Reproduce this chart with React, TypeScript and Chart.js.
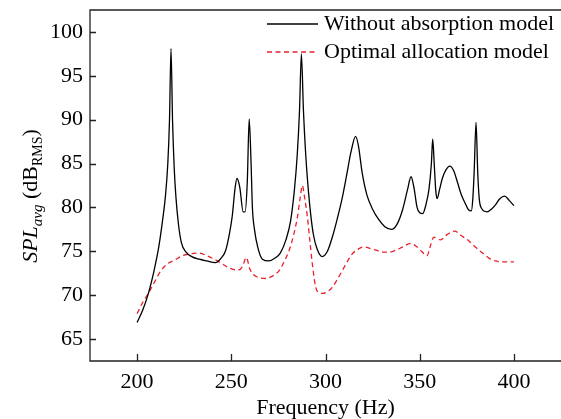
import React, { useEffect, useRef } from "react";
import { Chart, registerables } from "chart.js";

Chart.register(...registerables);

// ---- data ----
const freqWithout = [
  200, 203, 206, 209, 211.5, 213.5, 215, 216.3, 217.2, 218, 218.8, 219.7, 220.6, 222, 223.5, 226, 229, 233, 237,
  241.5, 244.5, 247, 249, 250.5, 252, 253, 254.5, 256.3, 257.3, 258.5, 259.5, 260.5, 261.2, 262.3, 264, 266.5,
  270, 273, 276, 279, 281.5, 283.5, 285, 286.2, 287.2, 288.3, 289.5, 290.5, 292, 293.5, 295.5, 298.3, 301,
  303.6, 306, 309, 311.5, 313.5, 316, 317.5, 319.5, 322, 325, 328.3, 331.5, 335, 338, 341, 343.5, 345.4, 347,
  348.6, 350, 351.6, 353.5, 355, 356.2, 356.9, 357.7, 358.5, 359.2, 360.5, 362, 364, 366, 368, 370, 372, 374.3,
  376, 377.4, 378.2, 378.9, 379.9, 380.8, 381.6, 382.8, 385.8, 388, 390.2, 392.5, 395.1, 397.5, 400,
];
const splWithout = [
  66.9, 68.3, 70.2, 72.8, 75.5, 78.5, 81.2, 85, 90, 98.1, 90, 84.5, 81.2, 78, 76, 74.9, 74.4, 74.1, 73.9,
  73.7, 74.2, 75.1, 77, 79, 82.2, 83.3, 82.3, 79.5, 79.5, 83, 90.1, 85, 80, 77.5, 75.5, 74.1,
  73.9, 74.2, 74.8, 76.3, 78.5, 82, 86, 91, 97.5, 91, 86, 83, 79.5, 77, 75.3, 74.4, 75,
  76.6, 78.5, 81.2, 84, 86.3, 88.1, 87, 83.9, 81.4, 79.8, 78.6, 77.8, 77.5, 78.1, 79.8, 82, 83.5, 82.2,
  80, 79.4, 79.3, 80.5, 82.2, 85, 87.8, 85, 82, 81, 82, 83.3, 84.3, 84.7, 84.2, 82.9, 81.5, 80.4,
  79.7, 79.6, 81, 84, 89.7, 84, 81, 79.9, 79.5, 79.8, 80.3, 81, 81.3, 80.8, 80.2,
];
const freqOptimal = [
  200, 203, 206.5, 210, 213, 216.2, 220, 224, 228, 233, 237, 241.8, 245, 248.9, 252, 254.2, 256, 258, 259.8,
  261.5, 263.5, 268.3, 272, 275.4, 278, 280.7, 283, 285.1, 286.5, 287.7, 289, 290.4, 291.7, 293, 294.8, 296.5,
  298.3, 301, 303.6, 306, 308.9, 311.5, 314.2, 317, 320.4, 324, 327.4, 330, 333.6, 337, 341, 345.1, 348.6, 351,
  353.9, 355.5, 357.5, 361, 364.5, 368.6, 372, 376, 380, 384, 387, 390.2, 395, 400,
];
const splOptimal = [
  67.9, 69.2, 70.4, 71.8, 72.9, 73.6, 74.0, 74.5, 74.7, 74.8, 74.5, 74.0, 73.6, 73.1, 72.9, 72.9, 73.3, 74.3, 73.0,
  72.4, 72.1, 71.9, 72.2, 72.8, 73.8, 75.1, 76.8, 78.9, 81, 82.5, 81, 78.9, 76.2, 73.6, 70.9, 70.3,
  70.2, 70.4, 70.9, 71.7, 72.8, 73.8, 74.7, 75.2, 75.5, 75.3, 75.1, 74.9, 74.9, 75.1, 75.5, 75.9, 75.5, 75,
  74.5, 75.5, 76.6, 76.3, 76.9, 77.3, 76.8, 76.2, 75.4, 74.7, 74.2, 73.9, 73.8, 73.8,
];
const xTickValues = [200, 250, 300, 350, 400];
const yTickValues = [65, 70, 75, 80, 85, 90, 95, 100];
const seriesLabels = ["Without absorption model", "Optimal allocation model"];
const xTitle = "Frequency (Hz)";
const yTitleParts = ["SPL", "avg", " (dB", "RMS", ")"];

const FONT = '"Liberation Serif", "Times New Roman", serif';
const RED = "#e8212b";
const RED_DASH = [5, 3.5];

export default function App() {
  const ref = useRef<HTMLCanvasElement>(null);

  useEffect(() => {
    const canvas = ref.current!;
    const decor = {
      id: "decor",
      afterDraw(chart: any) {
        const { ctx, chartArea: a, scales } = chart;
        const xs = scales.x;
        const ys = scales.y;
        ctx.save();
        // frame (left, top, bottom)
        ctx.strokeStyle = "#222";
        ctx.lineWidth = 1.3;
        ctx.beginPath();
        ctx.moveTo(a.right + 2, a.top);
        ctx.lineTo(a.left, a.top);
        ctx.lineTo(a.left, a.bottom);
        ctx.lineTo(a.right + 2, a.bottom);
        ctx.stroke();
        // inward ticks
        ctx.beginPath();
        for (const v of yTickValues) {
          const y = Math.round(ys.getPixelForValue(v)) + 0.5;
          ctx.moveTo(a.left, y);
          ctx.lineTo(a.left + 6, y);
        }
        for (const v of xTickValues) {
          const x = Math.round(xs.getPixelForValue(v)) + 0.5;
          ctx.moveTo(x, a.bottom);
          ctx.lineTo(x, a.bottom - 7);
        }
        ctx.stroke();

        // legend
        const lx0 = 267, lx1 = 318, tx = 324;
        const rows = [24, 52];
        ctx.font = `22px ${FONT}`;
        ctx.fillStyle = "#000";
        ctx.textBaseline = "middle";
        ctx.textAlign = "left";
        rows.forEach((ry, i) => {
          ctx.beginPath();
          ctx.lineWidth = 1.3;
          if (i === 0) {
            ctx.strokeStyle = "#000";
            ctx.setLineDash([]);
          } else {
            ctx.strokeStyle = RED;
            ctx.setLineDash(RED_DASH);
          }
          ctx.moveTo(lx0, ry);
          ctx.lineTo(lx1, ry);
          ctx.stroke();
          ctx.setLineDash([]);
          ctx.fillText(seriesLabels[i], tx, ry);
        });

        // x title
        ctx.textAlign = "center";
        ctx.textBaseline = "alphabetic";
        ctx.font = `22px ${FONT}`;
        ctx.fillText(xTitle, (a.left + a.right) / 2, 414);

        // y title with subscripts
        ctx.translate(37, 196);
        ctx.rotate(-Math.PI / 2);
        ctx.textAlign = "left";
        const segs = [
          { t: yTitleParts[0], f: `italic 22px ${FONT}`, dy: 0 },
          { t: yTitleParts[1], f: `italic 15px ${FONT}`, dy: 5 },
          { t: yTitleParts[2], f: `22px ${FONT}`, dy: 0 },
          { t: yTitleParts[3], f: `14px ${FONT}`, dy: 5 },
          { t: yTitleParts[4], f: `22px ${FONT}`, dy: 0 },
        ];
        let total = 0;
        for (const s of segs) {
          ctx.font = s.f;
          total += ctx.measureText(s.t).width;
        }
        let cx = -total / 2;
        for (const s of segs) {
          ctx.font = s.f;
          ctx.fillText(s.t, cx, s.dy);
          cx += ctx.measureText(s.t).width;
        }
        ctx.restore();
      },
    };

    const chart = new Chart(canvas, {
      type: "line",
      data: {
        datasets: [
          {
            label: seriesLabels[0],
            data: freqWithout.map((f, i) => ({ x: f, y: splWithout[i] })),
            borderColor: "#000",
            borderWidth: 1.3,
            pointRadius: 0,
            cubicInterpolationMode: "monotone",
            fill: false,
          },
          {
            label: seriesLabels[1],
            data: freqOptimal.map((f, i) => ({ x: f, y: splOptimal[i] })),
            borderColor: RED,
            borderWidth: 1.3,
            borderDash: RED_DASH,
            pointRadius: 0,
            cubicInterpolationMode: "monotone",
            fill: false,
          },
        ],
      },
      options: {
        responsive: false,
        animation: false,
        layout: { padding: { top: 10, left: 0, right: 0, bottom: 0 } },
        plugins: { legend: { display: false }, tooltip: { enabled: false } },
        scales: {
          x: {
            type: "linear",
            min: 175,
            max: 425,
            grid: { display: false, drawTicks: false },
            border: { display: false },
            afterBuildTicks: (s: any) => {
              s.ticks = xTickValues.map((v) => ({ value: v }));
            },
            afterFit: (s: any) => {
              s.height = 58;
              s.paddingLeft = 0;
              s.paddingRight = 0;
            },
            ticks: {
              font: { family: FONT, size: 22 },
              color: "#000",
              padding: 8,
              maxRotation: 0,
              autoSkip: false,
            },
          },
          y: {
            type: "linear",
            min: 62.5,
            max: 102.5,
            grid: { display: false, drawTicks: false },
            border: { display: false },
            afterBuildTicks: (s: any) => {
              s.ticks = yTickValues.map((v) => ({ value: v }));
            },
            afterFit: (s: any) => {
              s.width = 90;
              s.paddingTop = 0;
              s.paddingBottom = 0;
            },
            ticks: {
              font: { family: FONT, size: 22 },
              color: "#000",
              padding: 7,
              autoSkip: false,
            },
          },
        },
      },
      plugins: [decor],
    } as any);
    return () => chart.destroy();
  }, []);

  return (
    <div style={{ position: "absolute", left: 0, top: 0, width: 561, height: 419, background: "#fff" }}>
      <canvas ref={ref} width={561} height={419} style={{ display: "block", width: 561, height: 419 }} />
    </div>
  );
}
